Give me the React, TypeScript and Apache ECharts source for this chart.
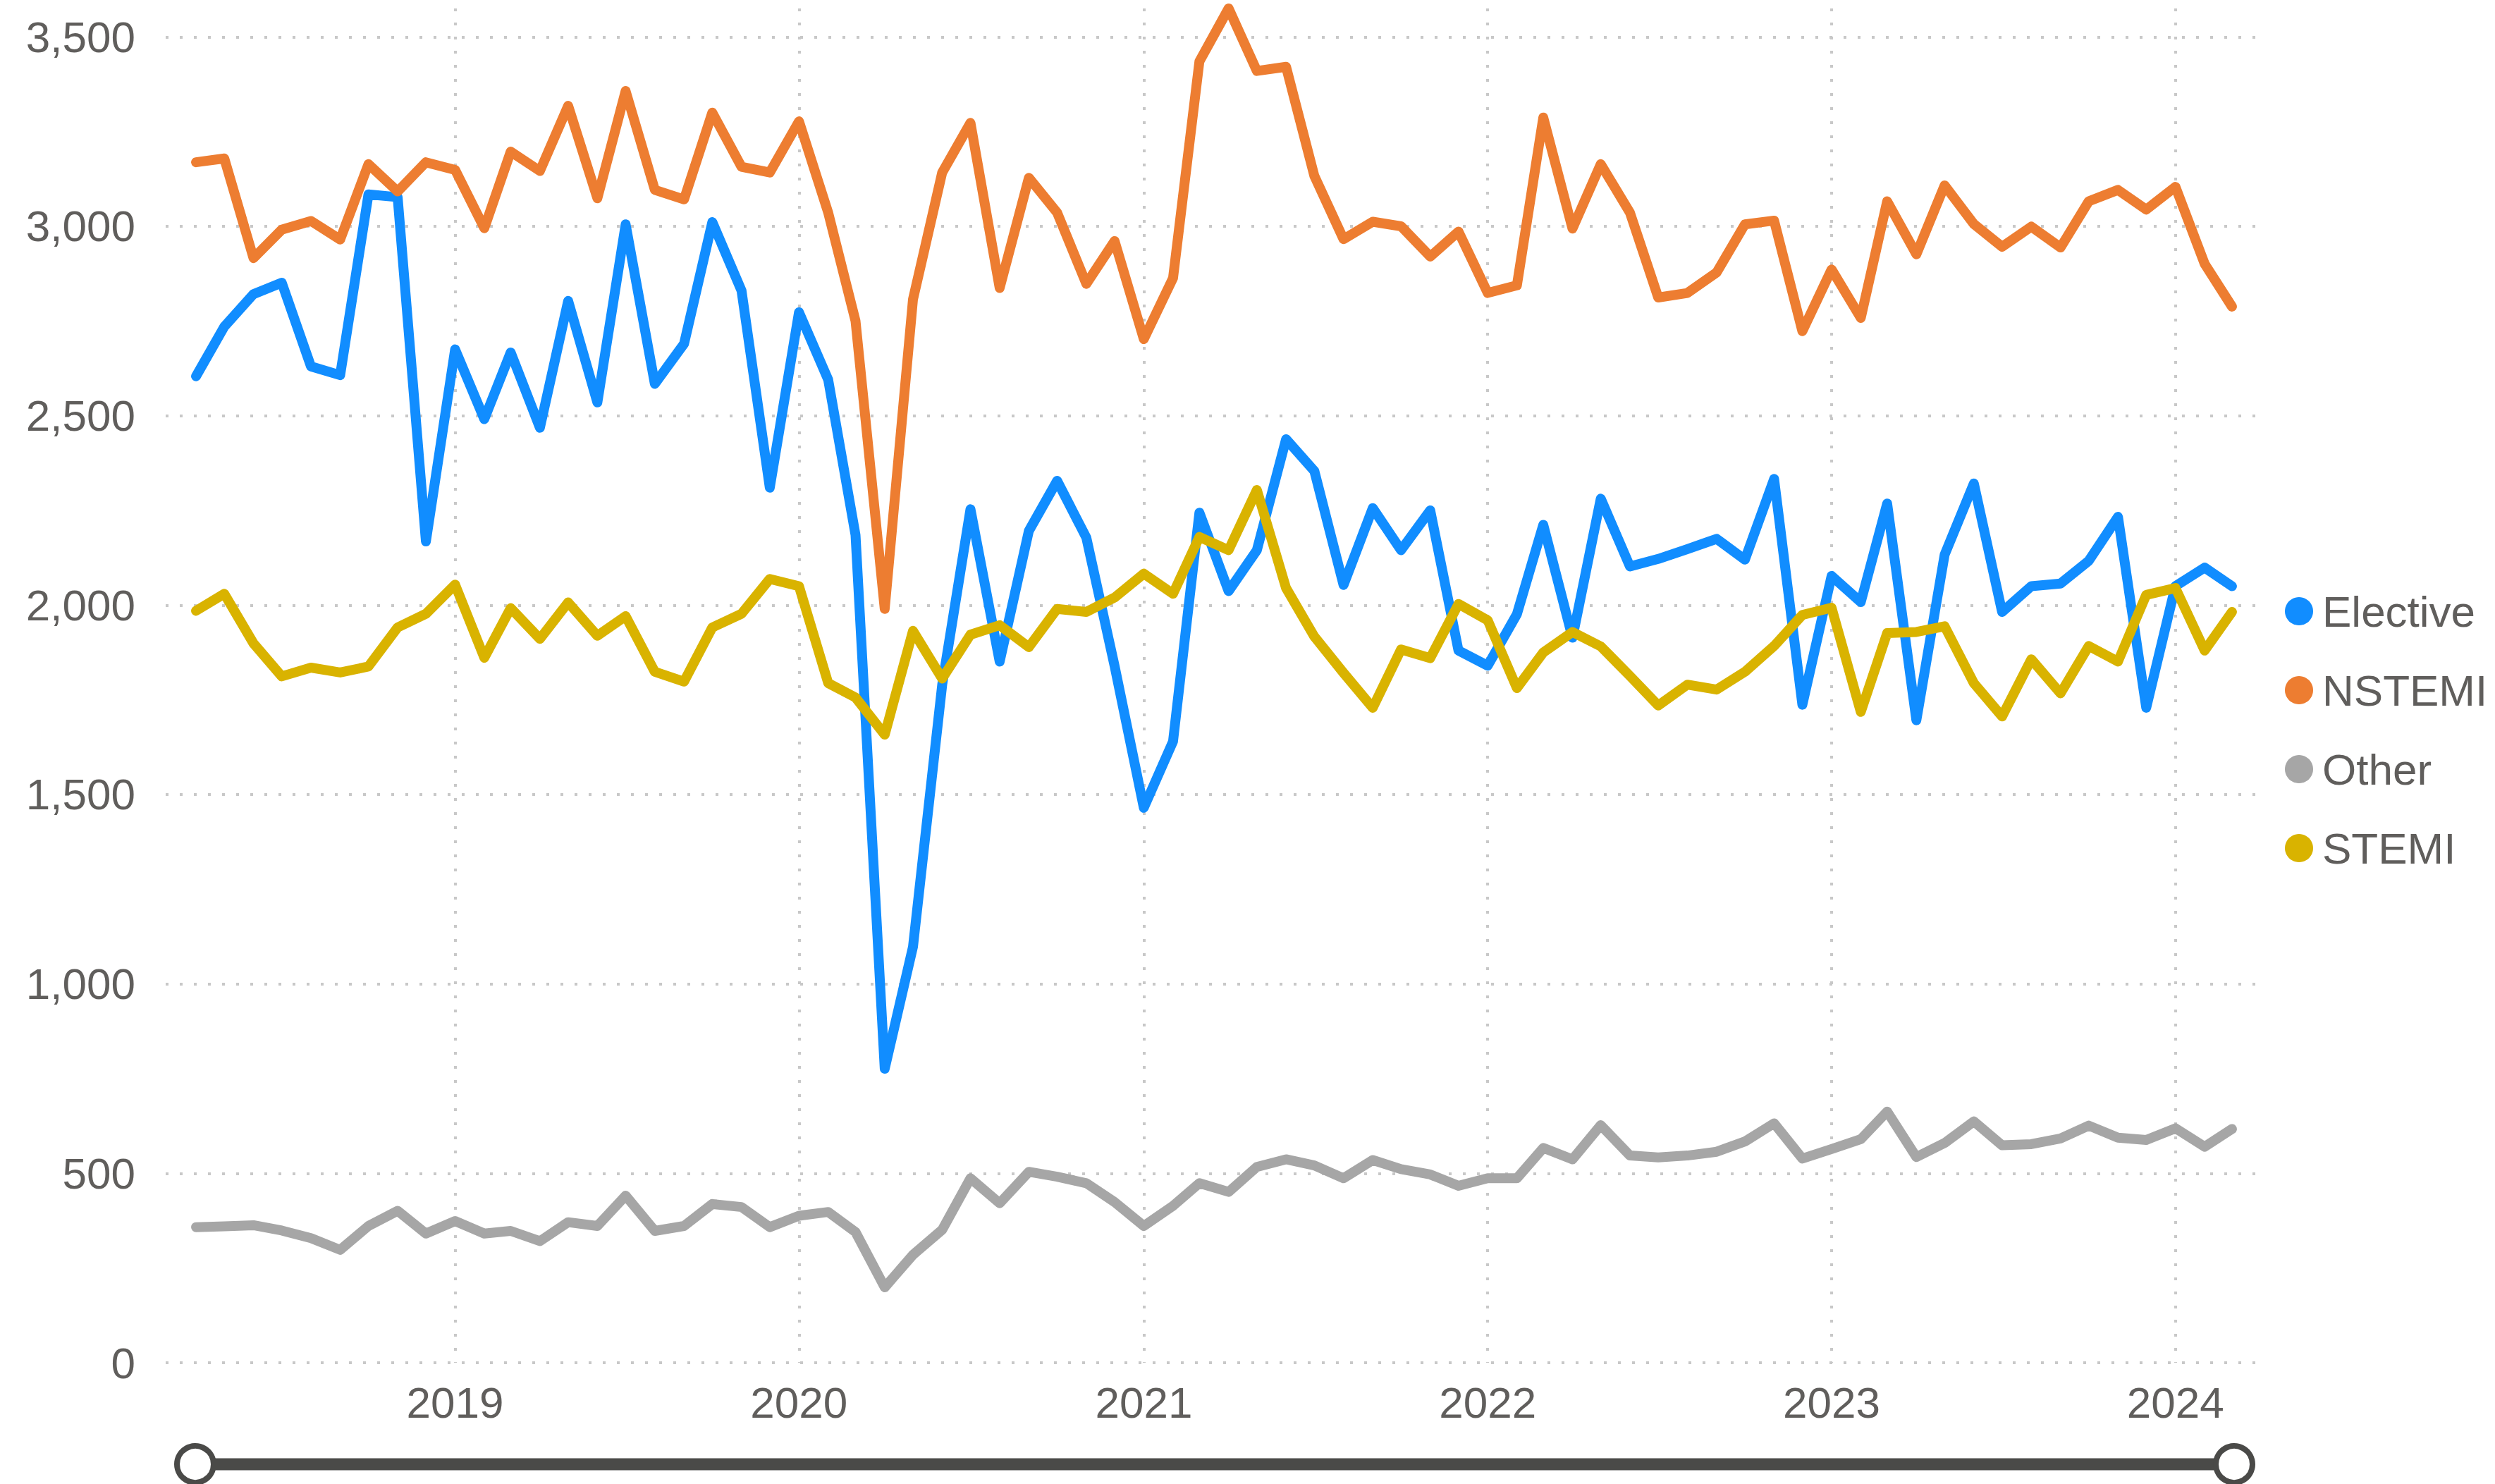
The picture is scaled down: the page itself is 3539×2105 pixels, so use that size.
import React, { useEffect, useRef } from "react";
import * as echarts from "echarts";

const MONTHS = [
  "2018-04-01", "2018-05-01", "2018-06-01", "2018-07-01", "2018-08-01", "2018-09-01",
  "2018-10-01", "2018-11-01", "2018-12-01",
  "2019-01-01", "2019-02-01", "2019-03-01", "2019-04-01", "2019-05-01", "2019-06-01",
  "2019-07-01", "2019-08-01", "2019-09-01", "2019-10-01", "2019-11-01", "2019-12-01",
  "2020-01-01", "2020-02-01", "2020-03-01", "2020-04-01", "2020-05-01", "2020-06-01",
  "2020-07-01", "2020-08-01", "2020-09-01", "2020-10-01", "2020-11-01", "2020-12-01",
  "2021-01-01", "2021-02-01", "2021-03-01", "2021-04-01", "2021-05-01", "2021-06-01",
  "2021-07-01", "2021-08-01", "2021-09-01", "2021-10-01", "2021-11-01", "2021-12-01",
  "2022-01-01", "2022-02-01", "2022-03-01", "2022-04-01", "2022-05-01", "2022-06-01",
  "2022-07-01", "2022-08-01", "2022-09-01", "2022-10-01", "2022-11-01", "2022-12-01",
  "2023-01-01", "2023-02-01", "2023-03-01", "2023-04-01", "2023-05-01", "2023-06-01",
  "2023-07-01", "2023-08-01", "2023-09-01", "2023-10-01", "2023-11-01", "2023-12-01",
  "2024-01-01", "2024-02-01", "2024-03-01",
];

const ELECTIVE = [
  2604, 2735, 2821, 2851, 2630, 2607, 3084, 3077, 2168,
  2675, 2491, 2667, 2468, 2803, 2535, 3005, 2584, 2690, 3011, 2830, 2310,
  2773, 2595, 2185, 776, 1098, 1790, 2253, 1851, 2196, 2328, 2178, 1839,
  1465, 1640, 2244, 2037, 2145, 2438, 2354, 2053, 2256, 2145, 2250, 1880,
  1840, 1976, 2212, 1914, 2281, 2102, 2122, 2148, 2175, 2120, 2333, 1737,
  2077, 2008, 2268, 1696, 2133, 2321, 1982, 2050, 2057, 2117, 2233, 1729,
  2050, 2099, 2050,
];

const NSTEMI = [
  3169, 3179, 2916, 2991, 3014, 2965, 3164, 3092, 3169,
  3149, 2995, 3197, 3146, 3318, 3074, 3357, 3096, 3071, 3300, 3157, 3142,
  3277, 3036, 2750, 1990, 2807, 3142, 3273, 2837, 3128, 3036, 2848, 2961,
  2702, 2863, 3435, 3575, 3410, 3421, 3133, 2966, 3012, 3000, 2920, 2986,
  2824, 2844, 3287, 2994, 3164, 3036, 2812, 2824, 2878, 3005, 3015, 2723,
  2886, 2758, 3066, 2926, 3108, 3006, 2946, 2999, 2944, 3066, 3096, 3044,
  3104, 2901, 2788,
];

const OTHER = [
  358, 360, 363, 349, 329, 298, 361, 401, 341,
  374, 341, 348, 321, 371, 361, 441, 348, 361, 419, 411, 358,
  388, 398, 345, 199, 285, 351, 487, 421, 504, 491, 474, 424,
  361, 414, 474, 451, 517, 537, 521, 487, 535, 511, 497, 467,
  487, 487, 567, 537, 627, 547, 542, 547, 557, 584, 632, 539,
  564, 590, 663, 543, 580, 637, 574, 577, 592, 626, 594, 588,
  619, 570, 617,
];

const STEMI = [
  1985, 2030, 1899, 1812, 1835, 1822, 1838, 1941, 1977,
  2054, 1861, 1992, 1911, 2007, 1919, 1971, 1824, 1798, 1941, 1977, 2069,
  2050, 1794, 1756, 1658, 1932, 1806, 1922, 1947, 1889, 1990, 1982, 2020,
  2083, 2030, 2180, 2145, 2304, 2045, 1917, 1821, 1729, 1883, 1860, 2003,
  1960, 1781, 1875, 1929, 1891, 1813, 1735, 1790, 1777, 1824, 1892, 1974,
  1993, 1718, 1926, 1929, 1944, 1794, 1706, 1857, 1767, 1892, 1851, 2027,
  2045, 1880, 1982,
];

const SERIES_NAMES = ["Elective", "NSTEMI", "Other", "STEMI"];
const SERIES_VALUES = [ELECTIVE, NSTEMI, OTHER, STEMI];
const SERIES_COLORS = ["#118DFF", "#ED7D31", "#A6A6A6", "#D9B300"];

const FONT = "'Liberation Sans', Arial, Helvetica, sans-serif";
const TEXT_COLOR = "#605E5C";
const GRID_COLOR = "#C8C8C8";
const SLIDER_COLOR = "#4A4A48";

export default function App() {
  const ref = useRef<HTMLDivElement>(null);

  useEffect(() => {
    if (!ref.current) return;
    const chart = echarts.init(ref.current, undefined, { renderer: "svg" });

    const gridDots = { color: GRID_COLOR, width: 4, type: [4, 16] as any, cap: "butt" };

    const series = SERIES_NAMES.map((name, si) => ({
      name,
      type: "line",
      data: MONTHS.map((m, i) => [m, SERIES_VALUES[si][i]]),
      showSymbol: false,
      symbol: "circle",
      clip: false,
      smooth: false,
      color: SERIES_COLORS[si],
      lineStyle: { width: 14, color: SERIES_COLORS[si], cap: "round", join: "round" },
      emphasis: { disabled: true },
    }));

    chart.setOption({
      animation: false,
      backgroundColor: "#ffffff",
      textStyle: { fontFamily: FONT },
      grid: { left: 235, right: 339, top: 12, bottom: 172, containLabel: false },
      legend: {
        orient: "vertical",
        left: 3241,
        top: 836,
        padding: 0,
        itemGap: 50,
        itemWidth: 56,
        itemHeight: 40,
        icon: "circle",
        data: SERIES_NAMES,
        textStyle: { fontSize: 62, color: TEXT_COLOR, fontFamily: FONT },
      },
      xAxis: {
        type: "time",
        min: new Date(2018, 1, 27, 19).getTime(),
        max: new Date(2024, 2, 26, 12).getTime(),
        minInterval: 360 * 24 * 3600 * 1000,
        axisLine: { show: false },
        axisTick: { show: false },
        axisLabel: {
          fontSize: 62,
          color: TEXT_COLOR,
          fontFamily: FONT,
          margin: 25,
          formatter: (v: number) => String(new Date(v).getFullYear()),
        },
        splitLine: { show: true, showMinLine: false, showMaxLine: false, lineStyle: gridDots },
      },
      yAxis: {
        type: "value",
        min: 0,
        max: (v: any) => v.max,
        interval: 500,
        axisLine: { show: false },
        axisTick: { show: false },
        axisLabel: {
          fontSize: 62,
          color: TEXT_COLOR,
          fontFamily: FONT,
          margin: 43,
          showMaxLabel: false,
          formatter: (v: number) => v.toLocaleString("en-US"),
        },
        splitLine: { show: true, showMaxLine: false, lineStyle: gridDots },
      },
      graphic: [
        {
          type: "line",
          shape: { x1: 277, y1: 2077, x2: 3169, y2: 2077 },
          style: { stroke: SLIDER_COLOR, lineWidth: 17 },
          z: 10,
        },
        {
          type: "circle",
          shape: { cx: 277, cy: 2077, r: 26 },
          style: { fill: "#ffffff", stroke: SLIDER_COLOR, lineWidth: 8 },
          z: 11,
        },
        {
          type: "circle",
          shape: { cx: 3169, cy: 2077, r: 26 },
          style: { fill: "#ffffff", stroke: SLIDER_COLOR, lineWidth: 8 },
          z: 11,
        },
      ],
      series,
    });

    return () => chart.dispose();
  }, []);

  return (
    <div
      ref={ref}
      style={{ position: "absolute", left: 0, top: 0, width: 3539, height: 2105, background: "#fff" }}
    />
  );
}
